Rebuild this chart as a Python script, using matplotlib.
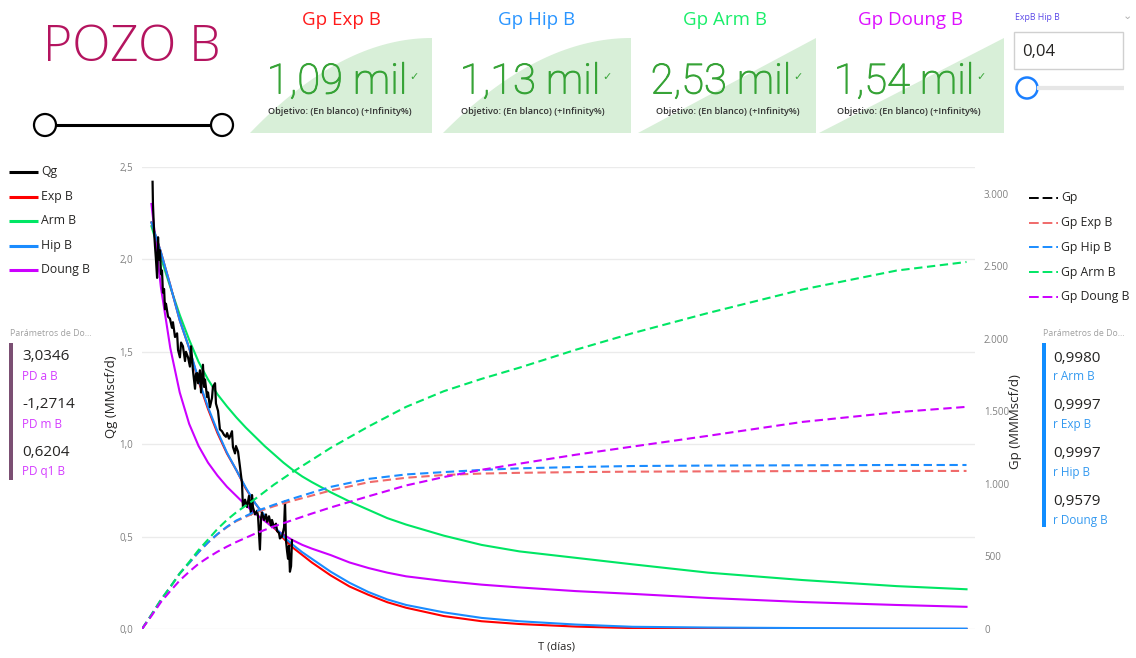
import matplotlib
matplotlib.use('Agg')
import matplotlib.pyplot as plt
import matplotlib.patheffects as pe
from matplotlib.patches import Rectangle, Circle, Polygon

plt.rcParams['font.family'] = ['Open Sans', 'DejaVu Sans']

# ---------------- datos ----------------
# Qg medido (días, MMscf/d)
t_qg = [56, 58, 64, 69, 74, 80, 85, 90, 95, 101, 106, 111, 117, 122, 127, 138, 148, 159, 164,
        175, 186, 191, 201, 207, 217, 228, 233, 244, 254, 260, 270, 281, 286, 292, 297, 307,
        313, 323, 329, 334, 345, 350, 360, 371, 376, 387, 392, 403, 413, 424, 435, 445, 451,
        461, 466, 477, 482, 493, 498, 509, 519, 525, 530, 535, 546, 557, 567, 578, 583, 588,
        599, 610, 615, 625, 631, 636, 647, 657, 663, 673, 684, 689, 700, 710, 716, 726, 731,
        742, 753, 758, 763, 769, 774, 779, 784, 790, 795]
qg = [2.42, 2.30, 2.15, 2.07, 2.00, 1.90, 2.12, 2.00, 2.05, 1.92, 1.94, 1.82, 1.84, 1.73, 1.76,
      1.69, 1.68, 1.63, 1.66, 1.58, 1.60, 1.51, 1.47, 1.55, 1.53, 1.45, 1.50, 1.47, 1.42, 1.53,
      1.40, 1.30, 1.38, 1.385, 1.33, 1.40, 1.28, 1.43, 1.31, 1.35, 1.255, 1.28, 1.20, 1.25,
      1.31, 1.33, 1.22, 1.18, 1.08, 1.07, 1.05, 1.04, 1.06, 1.03, 1.04, 1.07, 0.985, 0.95,
      0.99, 0.96, 0.88, 0.83, 0.79, 0.66, 0.70, 0.66, 0.72, 0.62, 0.725, 0.66, 0.62, 0.64,
      0.61, 0.43, 0.60, 0.63, 0.59, 0.62, 0.58, 0.61, 0.56, 0.59, 0.55, 0.57, 0.53, 0.52,
      0.49, 0.50, 0.55, 0.69, 0.48, 0.42, 0.38, 0.45, 0.31, 0.34, 0.48]

# curvas de ajuste de Qg
t_mod = [50, 100, 150, 200, 250, 300, 350, 400, 450, 500, 550, 600, 650, 700, 750, 800, 850,
         900, 1000, 1100, 1200, 1300, 1400, 1600, 1800, 2000, 2300, 2600, 3000, 3500, 4000, 4370]
q_exp = [2.20, 2.04, 1.86, 1.67, 1.52, 1.34, 1.19, 1.06, 0.95, 0.86, 0.76, 0.68, 0.61, 0.55,
         0.49, 0.44, 0.40, 0.36, 0.29, 0.23, 0.185, 0.145, 0.115, 0.07, 0.042, 0.027, 0.013,
         0.005, 0.002, 0.001, 0.0005, 0.0]
q_hip = [2.20, 2.04, 1.86, 1.67, 1.52, 1.35, 1.20, 1.07, 0.955, 0.86, 0.765, 0.68, 0.615, 0.555,
         0.50, 0.455, 0.415, 0.38, 0.31, 0.25, 0.20, 0.16, 0.13, 0.09, 0.06, 0.042, 0.024,
         0.012, 0.008, 0.005, 0.003, 0.002]
q_arm = [2.18, 2.01, 1.85, 1.70, 1.565, 1.445, 1.35, 1.27, 1.205, 1.145, 1.09, 1.04, 0.99,
         0.945, 0.90, 0.86, 0.825, 0.795, 0.74, 0.69, 0.645, 0.60, 0.565, 0.505, 0.455, 0.42,
         0.385, 0.35, 0.305, 0.265, 0.232, 0.215]
q_doung = [2.30, 1.85, 1.52, 1.28, 1.11, 0.99, 0.90, 0.83, 0.77, 0.72, 0.67, 0.625, 0.585,
           0.545, 0.51, 0.48, 0.455, 0.435, 0.40, 0.36, 0.33, 0.305, 0.285, 0.26, 0.24, 0.225,
           0.205, 0.19, 0.168, 0.146, 0.13, 0.12]

# Gp acumulado de cada ajuste
t_gp = [0, 50, 100, 150, 200, 250, 300, 350, 400, 450, 500, 600, 700, 800, 900, 1000, 1200,
        1400, 1600, 1800, 2000, 2300, 2600, 3000, 3500, 4000, 4370]
gp_exp = [0, 98, 200, 290, 383, 455, 530, 596, 653, 702, 744, 803, 847, 885, 920, 955, 1012,
          1043, 1062, 1072, 1077, 1082, 1085, 1087, 1089, 1090, 1090]
gp_hip = [0, 98, 200, 290, 383, 455, 530, 597, 655, 705, 748, 810, 857, 900, 940, 980, 1035,
          1066, 1082, 1097, 1108, 1117, 1124, 1127, 1129, 1131, 1131]
gp_arm = [0, 98, 200, 290, 383, 462, 545, 617, 690, 752, 805, 897, 996, 1084, 1166, 1249, 1396,
          1532, 1640, 1725, 1802, 1926, 2040, 2179, 2341, 2472, 2531]
gp_doung = [0, 90, 185, 262, 335, 395, 450, 493, 533, 568, 600, 658, 708, 752, 796, 838, 915,
            990, 1048, 1098, 1140, 1202, 1258, 1332, 1428, 1495, 1532]

# tarjetas
kpi_titles = ['Gp Exp B', 'Gp Hip B', 'Gp Arm B', 'Gp Doung B']
kpi_values = ['1,09 mil', '1,13 mil', '2,53 mil', '1,54 mil']
pd_values = ['3,0346', '-1,2714', '0,6204']
pd_labels = ['PD a B', 'PD m B', 'PD q1 B']
r_values = ['0,9980', '0,9997', '0,9997', '0,9579']
r_labels = ['r Arm B', 'r Exp B', 'r Hip B', 'r Doung B']

# colores
C_EXP = '#ff0000'
C_ARM = '#00e664'
C_HIP = '#1a8cff'
C_DOU = '#cc00ff'
C_TXT = '#252423'

W, H = 1136, 658
fig = plt.figure(figsize=(W / 100, H / 100), dpi=100)

# capa de fondo en píxeles
bg = fig.add_axes([0, 0, 1, 1])
bg.set_xlim(0, W)
bg.set_ylim(H, 0)
bg.axis('off')

# ---------------- gráfico principal ----------------
x0, x1, ytop, ybot = 142, 975, 167, 629
ax = fig.add_axes([x0 / W, 1 - ybot / H, (x1 - x0) / W, (ybot - ytop) / H])
ax2 = ax.twinx()
ax.set_xlim(0, 4415)
ax.set_ylim(0, 2.5)
ax2.set_ylim(0, 3186)

ax.plot(t_mod, q_arm, color=C_ARM, lw=1.5, zorder=3)
ax.plot(t_mod, q_doung, color=C_DOU, lw=1.5, zorder=3)
ax.plot(t_mod, q_exp, color=C_EXP, lw=1.5, zorder=3)
ax.plot(t_mod, q_hip, color=C_HIP, lw=1.5, zorder=3)
ax.plot(t_qg, qg, color='black', lw=1.6, zorder=4)

ds = (0, (4, 2.2))
ax2.plot(t_gp, gp_exp, color='#f06a6a', lw=1.5, ls=ds)
ax2.plot(t_gp, gp_hip, color=C_HIP, lw=1.5, ls=ds)
ax2.plot(t_gp, gp_arm, color=C_ARM, lw=1.5, ls=ds)
ax2.plot(t_gp, gp_doung, color=C_DOU, lw=1.5, ls=ds)

yt = [0, 0.5, 1.0, 1.5, 2.0, 2.5]
ax.set_yticks(yt)
ax.set_yticklabels([f'{v:.1f}'.replace('.', ',') for v in yt])
gt = [0, 500, 1000, 1500, 2000, 2500, 3000]
ax2.set_yticks(gt)
ax2.set_yticklabels([f'{v:,}'.replace(',', '.') for v in gt])
ax.set_xticks([])
for a in (ax, ax2):
    for s in a.spines.values():
        s.set_visible(False)
    a.tick_params(length=0, labelsize=7, colors='#808080', pad=6.5)
ax.yaxis.grid(True, color='#ebebeb', lw=1)
ax.set_axisbelow(True)
ax.patch.set_alpha(0)

bg.text(112, 397, 'Qg (MMscf/d)', rotation=90, ha='center', va='center', fontsize=9.5, color=C_TXT)
bg.text(1016, 422, 'Gp (MMMscf/d)', rotation=90, ha='center', va='center', fontsize=9.5, color=C_TXT)
bg.text(556, 647, 'T (días)', ha='center', va='center', fontsize=8, color=C_TXT)

# leyendas
left_leg = [('Qg', 'black'), ('Exp B', C_EXP), ('Arm B', C_ARM), ('Hip B', C_HIP), ('Doung B', C_DOU)]
for i, (lab, col) in enumerate(left_leg):
    y = 172 + i * 24.5
    bg.plot([9, 38], [y, y], color=col, lw=2.2, solid_capstyle='butt')
    bg.text(41, y, lab, va='center', fontsize=8.8, color=C_TXT)

right_leg = [('Gp', 'black'), ('Gp Exp B', '#f06a6a'), ('Gp Hip B', C_HIP),
             ('Gp Arm B', C_ARM), ('Gp Doung B', C_DOU)]
for i, (lab, col) in enumerate(right_leg):
    y = 198 + i * 24.7
    bg.plot([1029, 1058], [y, y], color=col, lw=1.4, ls=(0, (5, 2)))
    bg.text(1061, y, lab, va='center', fontsize=8.8, color=C_TXT)

# tarjetas de parámetros
bg.text(10, 334, 'Parámetros de Do...', va='center', fontsize=6.3, color='#a0a0a0')
bg.add_patch(Rectangle((9, 343), 4, 137, color='#7b4f73', lw=0))
for i, (v, lab) in enumerate(zip(pd_values, pd_labels)):
    bg.text(22, 357 + i * 47.5, v, va='center', fontsize=11, color=C_TXT)
    bg.text(22, 377 + i * 47.5, lab, va='center', fontsize=8.5, color='#d43cff')

bg.text(1043, 333, 'Parámetros de Do...', va='center', fontsize=6.3, color='#a0a0a0')
bg.add_patch(Rectangle((1042, 343), 3.5, 184, color='#118dff', lw=0))
for i, (v, lab) in enumerate(zip(r_values, r_labels)):
    bg.text(1053, 358 + i * 47.7, v, va='center', fontsize=11, color=C_TXT)
    bg.text(1053, 377 + i * 47.7, lab, va='center', fontsize=8.5, color='#3399f0')

# título y rango
bg.text(132, 48, 'POZO B', ha='center', va='center', fontsize=36, color='#b4145f',
        fontweight='light')
bg.plot([45, 222], [125, 125], color='black', lw=2.2, zorder=2)
for cx in (45, 222):
    bg.add_patch(Circle((cx, 125), 11, facecolor='white', edgecolor='black', lw=1.6, zorder=3))

# tarjetas KPI
cards = [(250, 432, True), (443, 631, True), (638, 816, False), (819, 1004, False)]
t_centers = [341, 537, 725, 911]
v_centers = [337, 530, 721, 904]
tcolors = ['#ff1a1a', '#2a95ff', '#1aee6a', '#dd11ff']
for i, (a, b, curved) in enumerate(cards):
    if curved:
        pts = [(a + (b - a) * k / 40, 133 - 95 * (1 - (1 - k / 40) ** 2)) for k in range(41)]
    else:
        pts = [(a, 133), (b, 38)]
    pts = pts + [(b, 133)]
    bg.add_patch(Polygon(pts, closed=True, facecolor='#d8efd8', edgecolor='none'))
    bg.text(t_centers[i], 20, kpi_titles[i], ha='center', va='center', fontsize=13.5,
            color=tcolors[i])
    bg.text(v_centers[i], 82, kpi_values[i], ha='center', va='center', fontsize=30,
            color='#36a336', family=['Roboto', 'DejaVu Sans'], fontweight='light',
            path_effects=[pe.withStroke(linewidth=0.7, foreground='#36a336')])
    bg.text(v_centers[i] + 77, 77, '✓', ha='center', va='center', fontsize=8, color='#3aa63a',
            family=['DejaVu Sans'])
    bg.text(a + 18, 112, 'Objetivo: (En blanco) (+Infinity%)', va='center', fontsize=6.6,
            color='#333333', fontweight='semibold')

# segmentador ExpB Hip B
bg.text(1015, 17, 'ExpB Hip B', va='center', fontsize=6.3, color='#5a48e8')
bg.text(1127, 16, '⌄', ha='center', va='center', fontsize=8, color='#b0b0b0',
        family=['DejaVu Sans'])
bg.add_patch(Rectangle((1014, 32), 109, 37, facecolor='white', edgecolor='#d0d0d0', lw=1))
bg.text(1022, 52, '0,04', va='center', fontsize=12, color=C_TXT)
bg.plot([1037, 1124], [88, 88], color='#e6e6e6', lw=3, solid_capstyle='butt')
bg.add_patch(Circle((1027, 88), 10.5, facecolor='white', edgecolor='#1a7fff', lw=1.8))

fig.savefig('out.png', dpi=100)
